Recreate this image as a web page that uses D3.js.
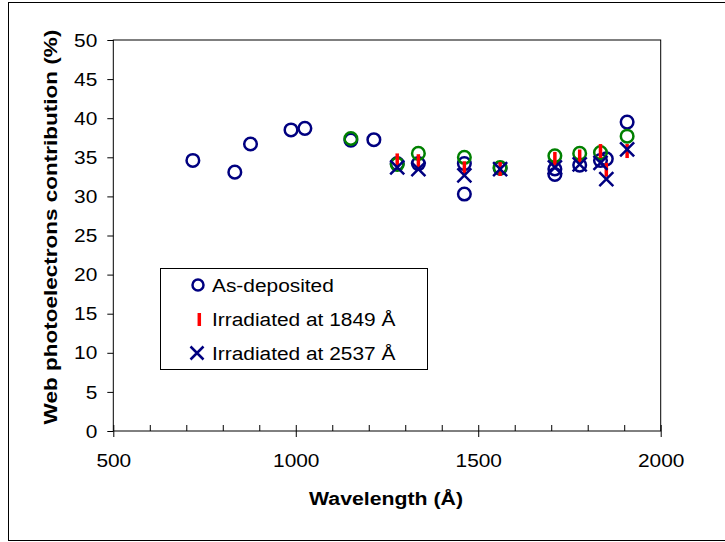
<!DOCTYPE html>
<html>
<head>
<meta charset="utf-8">
<script src="https://cdn.jsdelivr.net/npm/d3@7"></script>
<style>
  body { margin: 0; background: #fff; }
  text { font-family: "Liberation Sans", Arial, sans-serif; fill: #000; }
</style>
</head>
<body>
<div class="container"></div>
<script>
// as-deposited (navy circles)
const depWave = [718, 833, 876, 987, 1025, 1151, 1214, 1278, 1336, 1462, 1462, 1560, 1710, 1710, 1778, 1835, 1851, 1908]
const depVal  = [34.6, 33.1, 36.7, 38.5, 38.7, 37.2, 37.25, 34.2, 34.2, 34.2, 30.3, 33.6, 33.5, 32.8, 34.0, 34.6, 34.8, 39.5]
// second as-deposited sample (green circles, not in legend)
const greenWave = [1151, 1278, 1336, 1462, 1560, 1710, 1778, 1835, 1908]
const greenVal  = [37.4, 34.1, 35.5, 35.0, 33.7, 35.2, 35.5, 35.6, 37.7]
// irradiated at 1849 A (red bars)
const irr1Wave = [1278, 1336, 1462, 1560, 1710, 1778, 1835, 1851, 1908]
const irr1Val  = [34.6, 34.5, 33.6, 33.5, 34.8, 35.1, 35.8, 33.4, 35.8]
// irradiated at 2537 A (navy crosses)
const irr2Wave = [1278, 1336, 1462, 1560, 1710, 1778, 1835, 1851, 1908]
const irr2Val  = [33.7, 33.5, 32.7, 33.5, 33.7, 34.1, 34.3, 32.2, 36.0]

const xTicks = [500, 1000, 1500, 2000]
const yTicks = [0, 5, 10, 15, 20, 25, 30, 35, 40, 45, 50]
const legendLabels = ["As-deposited", "Irradiated at 1849 Å", "Irradiated at 2537 Å"]

const width = 725, height = 542
const navy = "#000080", green = "#008000", red = "#ff0000"
const stretch = "scale(1.16,1)"

const xScale = d3.scaleLinear().domain([500, 2000]).range([113.3, 660.7])
const yScale = d3.scaleLinear().domain([0, 50]).range([431, 40])

const svg = d3.select(".container").append("svg").attr("width", width).attr("height", height)

// outer chart border
svg.append("rect").attr("x", 8.5).attr("y", 2.5).attr("width", 720).attr("height", 538)
    .attr("fill", "none").attr("stroke", "#000").attr("stroke-width", 1)

// plot area frame
svg.append("rect")
    .attr("x", xScale(500)).attr("y", yScale(50))
    .attr("width", xScale(2000) - xScale(500)).attr("height", yScale(0) - yScale(50))
    .attr("fill", "none").attr("stroke", "#000").attr("stroke-width", 1)

// x axis, major ticks cross the axis
const xAxis = svg.append("g").attr("transform", "translate(0," + yScale(0) + ")")
    .call(d3.axisBottom(xScale).tickValues(xTicks).tickSize(6).tickSizeOuter(0).tickFormat(d => d))
xAxis.select(".domain").remove()
xAxis.selectAll(".tick line").attr("y1", -6).attr("y2", 6).attr("stroke", "#000")
xAxis.selectAll(".tick text").attr("y", 36).attr("dy", 0).style("font-size", "18px").attr("transform", stretch)

// minor x ticks (inside)
const minor = svg.append("g").attr("transform", "translate(0," + yScale(0) + ")")
    .call(d3.axisBottom(xScale).tickValues(d3.range(600, 2000, 100).filter(d => d % 500 != 0))
        .tickSize(-6).tickSizeOuter(0).tickFormat(""))
minor.select(".domain").remove()
minor.selectAll(".tick line").attr("stroke", "#000")

// y axis
const yAxis = svg.append("g").attr("transform", "translate(" + xScale(500) + ",0)")
    .call(d3.axisLeft(yScale).tickValues(yTicks).tickSize(6).tickSizeOuter(0))
yAxis.select(".domain").remove()
yAxis.selectAll(".tick line").attr("stroke", "#000")
yAxis.selectAll(".tick text").attr("x", -13.8).attr("dy", "0.34em").style("font-size", "18px").attr("transform", stretch)

// axis titles
svg.append("text").text("Wavelength (Å)")
    .attr("transform", "translate(386,505) scale(1.15,1)")
    .attr("text-anchor", "middle").style("font-size", "18.5px").style("font-weight", "bold")
svg.append("text").text("Web photoelectrons contribution (%)")
    .attr("transform", "translate(57,227) rotate(-90) scale(1.185,1)")
    .attr("text-anchor", "middle").style("font-size", "19px").style("font-weight", "bold")

// marker drawing helpers
function circles(g, xs, ys, color) {
    g.selectAll(null).data(xs).enter().append("circle")
        .attr("cx", d => xScale(d))
        .attr("cy", (d, i) => yScale(ys[i]))
        .attr("r", 6.3)
        .attr("fill", "none").attr("stroke", color).attr("stroke-width", 2.5)
}
function crossPath(s) {
    return "M" + (-s) + "," + (-s) + "L" + s + "," + s + "M" + (-s) + "," + s + "L" + s + "," + (-s)
}

const marks = svg.append("g")
circles(marks, depWave, depVal, navy)
circles(marks, greenWave, greenVal, green)

marks.selectAll(null).data(irr1Wave).enter().append("line")
    .attr("x1", d => xScale(d)).attr("x2", d => xScale(d))
    .attr("y1", (d, i) => yScale(irr1Val[i]) - 7)
    .attr("y2", (d, i) => yScale(irr1Val[i]) + 7)
    .attr("stroke", red).attr("stroke-width", 3.5)

marks.selectAll(null).data(irr2Wave).enter().append("path")
    .attr("d", crossPath(7))
    .attr("transform", (d, i) => "translate(" + xScale(d) + "," + yScale(irr2Val[i]) + ")")
    .attr("fill", "none").attr("stroke", navy).attr("stroke-width", 2.5)

// legend
const legend = svg.append("g")
legend.append("rect").attr("x", 160.5).attr("y", 268.5).attr("width", 267).attr("height", 101)
    .attr("fill", "#fff").attr("stroke", "#000").attr("stroke-width", 1)
const rowY = [285, 319.5, 353]
legend.append("circle").attr("cx", 198).attr("cy", rowY[0]).attr("r", 5.5)
    .attr("fill", "none").attr("stroke", navy).attr("stroke-width", 2.5)
legend.append("line").attr("x1", 199.3).attr("x2", 199.3).attr("y1", rowY[1] - 6.5).attr("y2", rowY[1] + 6.5)
    .attr("stroke", red).attr("stroke-width", 3.5)
legend.append("path").attr("d", crossPath(6.5)).attr("transform", "translate(197," + rowY[2] + ")")
    .attr("fill", "none").attr("stroke", navy).attr("stroke-width", 2.5)
legend.selectAll(null).data(legendLabels).enter().append("text")
    .text(d => d)
    .attr("transform", (d, i) => "translate(212," + (rowY[i] + 6.5) + ") scale(1.16,1)")
    .style("font-size", "18px")
</script>
</body>
</html>
